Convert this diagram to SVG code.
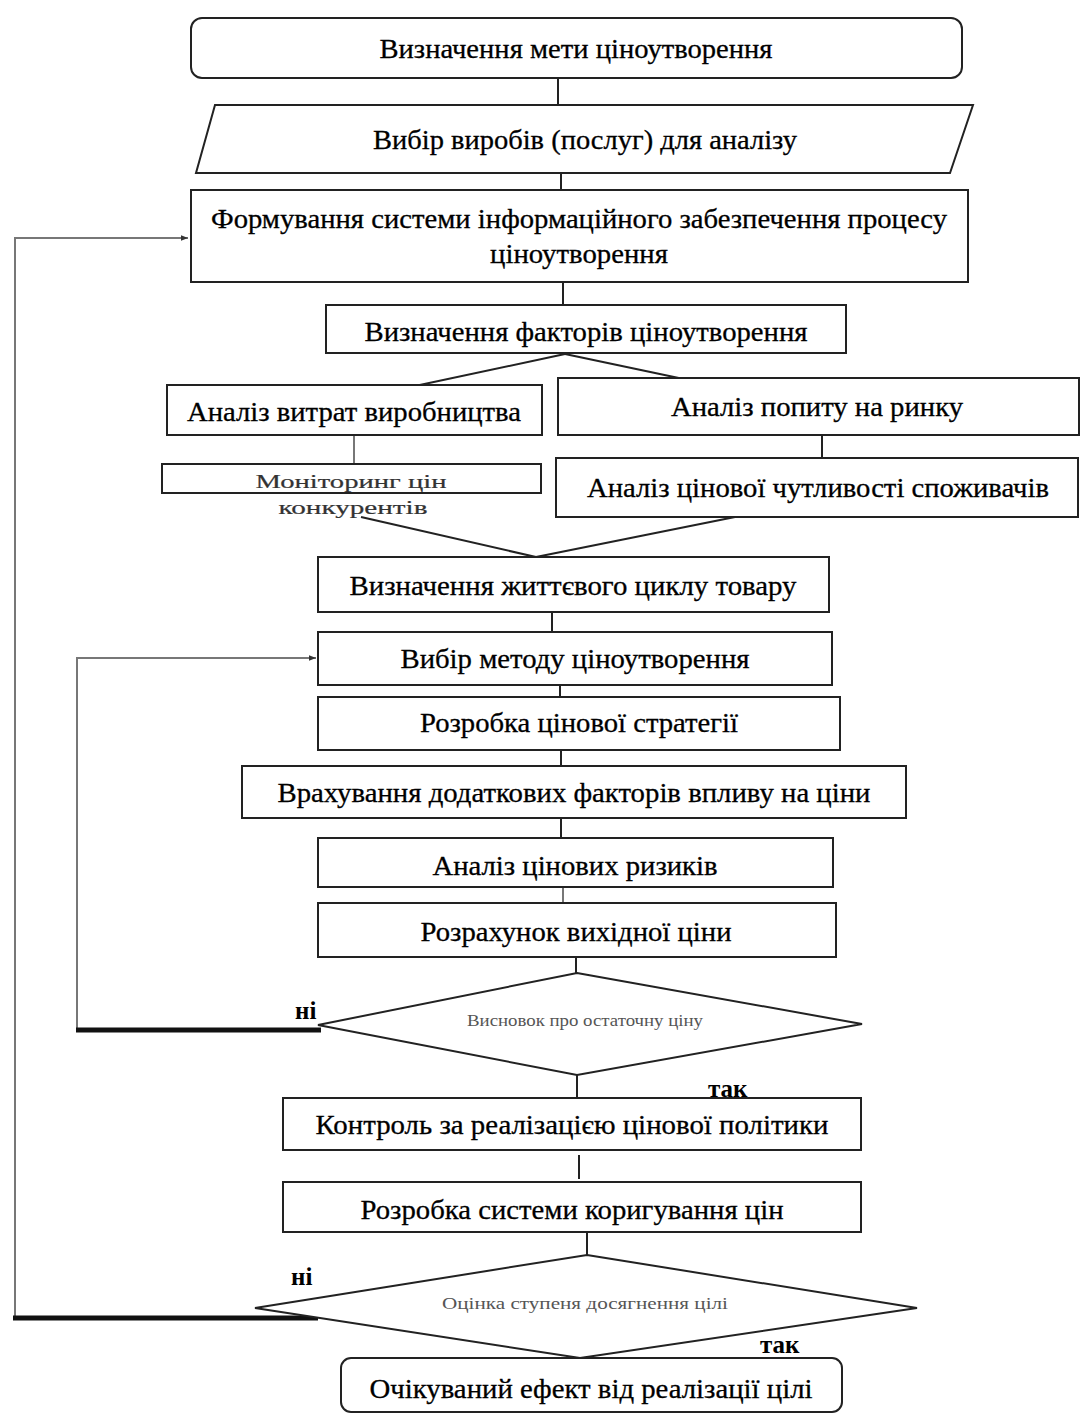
<svg xmlns="http://www.w3.org/2000/svg" width="1091" height="1422" viewBox="0 0 1091 1422">
<defs>
<style>
.box{fill:#fff;stroke:#222;stroke-width:2}
.t{font-family:"Liberation Serif","Times New Roman",serif;font-size:28px;fill:#000;text-anchor:middle;stroke:#000;stroke-width:0.3}
.m{font-family:"Liberation Serif","Times New Roman",serif;font-size:19px;fill:#333;text-anchor:middle;stroke:#333;stroke-width:0.2}
.s{font-family:"Liberation Serif","Times New Roman",serif;font-size:17px;fill:#555;text-anchor:middle}
.lb{font-family:"Liberation Serif","Times New Roman",serif;font-size:25px;font-weight:bold;fill:#000}
.c{stroke:#222;stroke-width:2;fill:none}
.thick{stroke:#111;stroke-width:5;fill:none}
.g{stroke:#777;stroke-width:2;fill:none}
</style>
<marker id="ah" viewBox="0 0 10 10" refX="10" refY="5" markerWidth="7" markerHeight="7" orient="auto" markerUnits="userSpaceOnUse">
<path d="M0,1 L10,5 L0,9 Z" fill="#333"/>
</marker>
</defs>
<rect width="1091" height="1422" fill="#fff"/>
<g id="connectors">
<line class="c" x1="558" y1="78" x2="558" y2="105"/>
<line class="c" x1="561" y1="173" x2="561" y2="190"/>
<line class="c" x1="563" y1="282" x2="563" y2="305" stroke-width="4"/>
<line class="c" x1="565" y1="354" x2="415" y2="386"/>
<line class="c" x1="565" y1="354" x2="693" y2="381"/>
<line class="g" x1="354" y1="435" x2="354" y2="464" stroke-width="1.5"/>
<line class="c" x1="822" y1="435" x2="822" y2="458" stroke-width="3.5"/>
<line class="c" x1="361" y1="517" x2="536" y2="557"/>
<line class="c" x1="735" y1="517" x2="536" y2="557"/>
<line class="c" x1="552" y1="612" x2="552" y2="632"/>
<line class="c" x1="560" y1="685" x2="560" y2="697" stroke-width="3.5"/>
<line class="c" x1="561" y1="750" x2="561" y2="766"/>
<line class="c" x1="561" y1="818" x2="561" y2="838"/>
<line class="g" x1="563" y1="887" x2="563" y2="903"/>
<line class="c" x1="576" y1="957" x2="576" y2="973"/>
<line class="c" x1="577" y1="1075" x2="577" y2="1098"/>
<line class="c" x1="579" y1="1155" x2="579" y2="1179" stroke-width="3.5"/>
<line class="c" x1="587" y1="1232" x2="587" y2="1255"/>
<polyline class="g" points="15,1318 15,238 188,238" marker-end="url(#ah)"/>
<line class="thick" x1="13" y1="1318" x2="318" y2="1318"/>
<polyline class="g" points="77,1030 77,658 316,658" marker-end="url(#ah)"/>
<line class="thick" x1="76" y1="1030" x2="321" y2="1030"/>
</g>
<g id="n1"><rect class="box" x="191" y="18" width="771" height="60" rx="11"/><text class="t" x="576" y="58" textLength="393" lengthAdjust="spacingAndGlyphs">Визначення мети ціноутворення</text></g>
<g id="n2"><polygon class="box" points="215,105 973,105 950,173 196,173"/><text class="t" x="585" y="149" textLength="424" lengthAdjust="spacingAndGlyphs">Вибір виробів (послуг) для аналізу</text></g>
<g id="n3"><rect class="box" x="191" y="190" width="777" height="92"/><text class="t" x="579" y="228" textLength="736" lengthAdjust="spacingAndGlyphs">Формування системи інформаційного забезпечення процесу</text><text class="t" x="579" y="263" textLength="178" lengthAdjust="spacingAndGlyphs">ціноутворення</text></g>
<g id="n4"><rect class="box" x="326" y="305" width="520" height="48"/><text class="t" x="586" y="341" textLength="443" lengthAdjust="spacingAndGlyphs">Визначення факторів ціноутворення</text></g>
<g id="n5"><rect class="box" x="167" y="385" width="375" height="50"/><text class="t" x="354" y="421" textLength="334" lengthAdjust="spacingAndGlyphs">Аналіз витрат виробництва</text></g>
<g id="n6"><rect class="box" x="558" y="378" width="521" height="57"/><text class="t" x="817" y="416" textLength="292" lengthAdjust="spacingAndGlyphs">Аналіз попиту на ринку</text></g>
<g id="n7"><rect class="box" x="162" y="464" width="379" height="29" stroke="#555"/><text class="m" x="351" y="488" textLength="191" lengthAdjust="spacingAndGlyphs">Моніторинг цін</text><text class="m" x="353" y="514" textLength="149" lengthAdjust="spacingAndGlyphs">конкурентів</text></g>
<g id="n8"><rect class="box" x="556" y="458" width="522" height="59"/><text class="t" x="818" y="497" textLength="462" lengthAdjust="spacingAndGlyphs">Аналіз цінової чутливості споживачів</text></g>
<g id="n9"><rect class="box" x="318" y="557" width="511" height="55"/><text class="t" x="573" y="595" textLength="447" lengthAdjust="spacingAndGlyphs">Визначення життєвого циклу товару</text></g>
<g id="n10"><rect class="box" x="318" y="632" width="514" height="53"/><text class="t" x="575" y="668" textLength="349" lengthAdjust="spacingAndGlyphs">Вибір методу ціноутворення</text></g>
<g id="n11"><rect class="box" x="318" y="697" width="522" height="53"/><text class="t" x="579" y="732" textLength="318" lengthAdjust="spacingAndGlyphs">Розробка цінової стратегії</text></g>
<g id="n12"><rect class="box" x="242" y="766" width="664" height="52"/><text class="t" x="574" y="802" textLength="593" lengthAdjust="spacingAndGlyphs">Врахування додаткових факторів впливу на ціни</text></g>
<g id="n13"><rect class="box" x="318" y="838" width="515" height="49"/><text class="t" x="575" y="875" textLength="285" lengthAdjust="spacingAndGlyphs">Аналіз цінових ризиків</text></g>
<g id="n14"><rect class="box" x="318" y="903" width="518" height="54"/><text class="t" x="576" y="941" textLength="311" lengthAdjust="spacingAndGlyphs">Розрахунок вихідної ціни</text></g>
<g id="n15"><polygon class="box" points="577,973 862,1024 577,1075 318,1025"/><text class="s" x="585" y="1026" textLength="236" lengthAdjust="spacingAndGlyphs">Висновок про остаточну ціну</text></g>
<g id="n16"><rect class="box" x="283" y="1098" width="578" height="52"/><text class="t" x="572" y="1134" textLength="513" lengthAdjust="spacingAndGlyphs">Контроль за реалізацією цінової політики</text></g>
<g id="n17"><rect class="box" x="283" y="1182" width="578" height="50"/><text class="t" x="572" y="1219" textLength="423" lengthAdjust="spacingAndGlyphs">Розробка системи коригування цін</text></g>
<g id="n18"><polygon class="box" points="587,1255 917,1308 580,1358 255,1308"/><text class="s" x="585" y="1309" font-size="18" textLength="286" lengthAdjust="spacingAndGlyphs">Оцінка ступеня досягнення цілі</text></g>
<g id="n19"><rect class="box" x="341" y="1358" width="501" height="54" rx="10"/><text class="t" x="591" y="1398" textLength="443" lengthAdjust="spacingAndGlyphs">Очікуваний ефект від реалізації цілі</text></g>
<g id="labels">
<text class="lb" x="295" y="1019">ні</text>
<text class="lb" x="708" y="1097">так</text>
<text class="lb" x="291" y="1285">ні</text>
<text class="lb" x="760" y="1353">так</text>
</g>
</svg>
